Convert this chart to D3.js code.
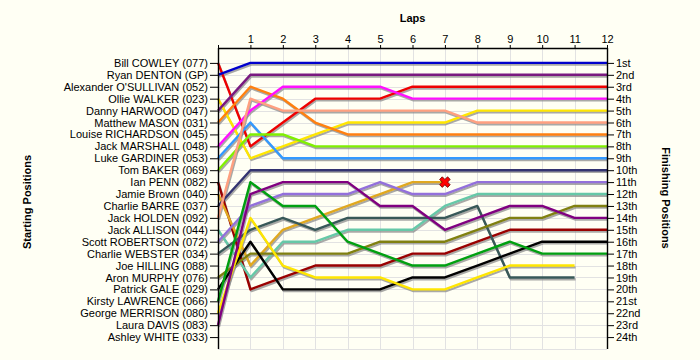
<!DOCTYPE html>
<html>
<head>
<meta charset="utf-8">
<script src="https://cdn.jsdelivr.net/npm/d3@7"></script>
<style>
  html, body { margin: 0; padding: 0; background: #fffff4; }
  svg { display: block; font-family: Arial, "Liberation Sans", sans-serif; }
</style>
</head>
<body>
<svg id="chart" width="700" height="360"></svg>
<script>
// ---- Data ----
const laps = [0,1,2,3,4,5,6,7,8,9,10,11,12];
const lapLabels = ["1","2","3","4","5","6","7","8","9","10","11","12"];
const startingNames = [
  "Bill COWLEY (077)", "Ryan DENTON (GP)", "Alexander O'SULLIVAN (052)", "Ollie WALKER (023)",
  "Danny HARWOOD (047)", "Matthew MASON (031)", "Louise RICHARDSON (045)", "Jack MARSHALL (048)",
  "Luke GARDINER (053)", "Tom BAKER (069)", "Ian PENN (082)", "Jamie Brown (040)",
  "Charlie BARRE (037)", "Jack HOLDEN (092)", "Jack ALLISON (044)", "Scott ROBERTSON (072)",
  "Charlie WEBSTER (034)", "Joe HILLING (088)", "Aron MURPHY (076)", "Patrick GALE (029)",
  "Kirsty LAWRENCE (066)", "George MERRISON (080)", "Laura DAVIS (083)", "Ashley WHITE (033)"
];
const finishingLabels = ["1st","2nd","3rd","4th","5th","6th","7th","8th","9th","10th","11th","12th",
  "13th","14th","15th","16th","17th","18th","19th","20th","21st","22nd","23rd","24th"];

// positions per lap (lap 0 = start)
const billCowley      = [1,8,6,4,4,4,3,3,3,3,3,3,3];
const ryanDenton      = [2,1,1,1,1,1,1,1,1,1,1,1,1];
const ollieWalker     = [4,9,8,7,6,6,6,6,5,5,5,5,5];
const dannyHarwood    = [5,2,2,2,2,2,2,2,2,2,2,2,2];
const matthewMason    = [6,3,4,6,7,7,7,7,7,7,7,7,7];
const jackMarshall    = [8,5,3,3,3,3,4,4,4,4,4,4,4];
const lukeGardiner    = [9,6,9,9,9,9,9,9,9,9,9,9,9];
const tomBaker        = [10,7,7,8,8,8,8,8,8,8,8,8,8];
const ianPenn         = [11,20,19,18,18,18,17,17,16,15,15,15,15];
const jamieBrown      = [12,18,15,14,13,12,11,11];           // retired lap 7
const charlieBarre    = [13,10,10,10,10,10,10,10,10,10,10,10,10];
const jackHolden      = [14,4,5,5,5,5,5,5,6,6,6,6,6];
const jackAllison     = [15,19,16,16,15,15,15,13,12,12,12,12,12];
const scottRobertson  = [16,13,12,12,12,11,12,12,11,11,11,11,11];
const charlieWebster  = [17,15,14,15,14,14,14,14,13,19,19,19];   // lapped
const aronMurphy      = [19,17,17,17,17,16,16,16,15,14,14,13,13];
const patrickGale     = [20,16,20,20,20,20,19,19,18,17,16,16,16];
const kirstyLawrence  = [21,11,13,13,16,17,18,18,17,16,17,17,17];
const georgeMerrison  = [22,14,18,19,19,19,20,20,19,18,18,18];   // lapped
const lauraDavis      = [23,12,11,11,11,13,13,15,14,13,13,14,14];

const series = [
  {pos: billCowley,     color: "#ee0000"},
  {pos: ryanDenton,     color: "#0000cc"},
  {pos: ollieWalker,    color: "#ffe600"},
  {pos: dannyHarwood,   color: "#7a1a80"},
  {pos: matthewMason,   color: "#ff8010"},
  {pos: jackMarshall,   color: "#ff10ff"},
  {pos: lukeGardiner,   color: "#3399ff"},
  {pos: tomBaker,       color: "#80f000"},
  {pos: ianPenn,        color: "#990000"},
  {pos: jamieBrown,     color: "#e0a820", retired: true},
  {pos: charlieBarre,   color: "#333370"},
  {pos: jackHolden,     color: "#ffa080"},
  {pos: jackAllison,    color: "#66c8a8"},
  {pos: scottRobertson, color: "#9370db"},
  {pos: charlieWebster, color: "#385858"},
  {pos: aronMurphy,     color: "#808010"},
  {pos: patrickGale,    color: "#000000"},
  {pos: kirstyLawrence, color: "#00a010"},
  {pos: georgeMerrison, color: "#ffe600"},
  {pos: lauraDavis,     color: "#800080"}
];

// ---- Layout ----
const svg = d3.select("#chart");
const x = d3.scaleLinear().domain([0, 12]).range([218, 607]);
const y = d3.scaleLinear().domain([-0.25, 25]).range([48, 349]);
const positions = d3.range(1, 25);

svg.append("rect").attr("width", 700).attr("height", 360).attr("fill", "#fffff4");

// gridlines
const grid = svg.append("g").attr("stroke", "#e2e2e2").attr("stroke-width", 1);
grid.selectAll("line.v").data(laps.slice(1)).join("line")
  .attr("x1", d => Math.round(x(d)) + 0.5).attr("x2", d => Math.round(x(d)) + 0.5)
  .attr("y1", y(-0.25)).attr("y2", y(25));
grid.selectAll("line.h").data(positions.concat([25])).join("line")
  .attr("x1", x(0)).attr("x2", x(12))
  .attr("y1", d => Math.round(y(d)) + 0.5).attr("y2", d => Math.round(y(d)) + 0.5);

// lines
const line = d3.line().x((d, i) => x(laps[i])).y(d => y(d));
const shadows = svg.append("g").attr("transform", "translate(1,1.8)");
shadows.selectAll("path").data(series).join("path")
  .attr("d", d => line(d.pos))
  .attr("fill", "none").attr("stroke", "#8c8c8c").attr("stroke-opacity", 0.75)
  .attr("stroke-width", 2.2).attr("stroke-linejoin", "round");
svg.append("g").selectAll("path").data(series).join("path")
  .attr("d", d => line(d.pos))
  .attr("fill", "none").attr("stroke", d => d.color)
  .attr("stroke-width", 2.4).attr("stroke-linejoin", "round");

// retired marker
series.filter(d => d.retired).forEach(d => {
  const li = d.pos.length - 1;
  svg.append("path")
    .attr("d", d3.symbol(d3.symbolCross, 70)())
    .attr("transform", `translate(${x(laps[li])},${y(d.pos[li])}) rotate(45)`)
    .attr("fill", "#ff0000").attr("stroke", "#660000").attr("stroke-width", 0.8);
});

// axes
const fontSize = "11px";
const leftAxis = d3.axisLeft(y).tickValues(positions)
  .tickFormat(d => startingNames[d - 1]).tickSize(8).tickPadding(2);
const gl = svg.append("g").attr("transform", `translate(${x(0)},0)`).call(leftAxis);

const rightAxis = d3.axisRight(y).tickValues(positions)
  .tickFormat(d => finishingLabels[d - 1]).tickSize(7).tickPadding(2);
const gr = svg.append("g").attr("transform", `translate(${x(12)},0)`).call(rightAxis);

const topAxis = d3.axisTop(x).tickValues(laps)
  .tickFormat(d => d === 0 ? "" : lapLabels[d - 1]).tickSize(3).tickPadding(2);
const gt = svg.append("g").attr("transform", `translate(0,${y(-0.25)})`).call(topAxis);

[gl, gr, gt].forEach(g => {
  g.selectAll("text").attr("font-size", fontSize).attr("fill", "#000")
    .attr("font-family", "Arial, 'Liberation Sans', sans-serif");
  g.selectAll("line").attr("stroke", "#000");
  g.select(".domain").attr("stroke", "#000").attr("stroke-width", 1.4);
});
gl.select(".domain").attr("d", `M0.5,${y(-0.25)}V${y(25)}`);
gr.select(".domain").attr("d", `M0.5,${y(-0.25)}V${y(25)}`);
gt.select(".domain").attr("d", `M${x(0)},0.5H${x(12)}`);

// titles
svg.append("text").attr("x", (x(0) + x(12)) / 2).attr("y", 22)
  .attr("text-anchor", "middle").attr("font-weight", "bold").attr("font-size", fontSize)
  .text("Laps");
svg.append("text").attr("transform", "translate(31,202) rotate(-90)")
  .attr("text-anchor", "middle").attr("font-weight", "bold").attr("font-size", fontSize)
  .text("Starting Positions");
svg.append("text").attr("transform", "translate(662,198) rotate(90)")
  .attr("text-anchor", "middle").attr("font-weight", "bold").attr("font-size", fontSize)
  .text("Finishing Positions");
</script>
</body>
</html>
